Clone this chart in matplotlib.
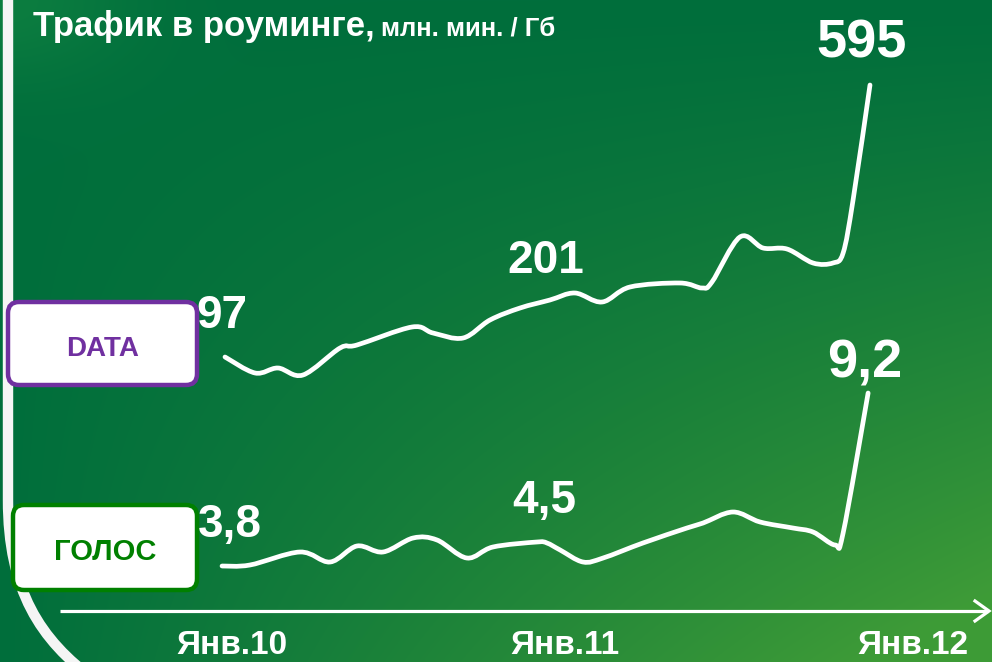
#!/usr/bin/env python3
"""Roaming traffic chart: DATA vs voice, Jan 2010 - Jan 2012."""
import numpy as np
import matplotlib

matplotlib.use("Agg")
import matplotlib.pyplot as plt
from matplotlib.path import Path
from matplotlib.patches import PathPatch, FancyBboxPatch
from matplotlib.transforms import Affine2D

# Curves as drawn (freehand, not to scale): x in months from Jan.10,
# y is the visual height of the line above the time axis.
data_months = [0.00, 1.12, 1.97, 2.90, 4.28, 4.91, 6.96, 7.74, 8.86, 9.86,
               10.98, 12.09, 13.02, 14.03, 15.07, 16.93, 17.75, 18.12, 19.16,
               20.02, 20.91, 21.88, 22.62, 23.00, 23.37, 24.00]
data_level = [254, 238, 243, 236, 263, 266, 284, 278, 273, 291,
              303, 311, 318, 309, 324, 328, 323, 329, 374,
              363, 362, 348, 348, 358, 411, 526]

voice_months = [-0.11, 0.93, 2.79, 3.91, 4.91, 5.88, 7.00, 7.89, 9.00, 9.97,
                11.61, 11.98, 12.47, 13.32, 14.07, 15.55, 17.19, 17.79, 18.90,
                19.91, 21.13, 21.88, 22.70, 23.00, 23.93]
voice_level = [45, 46, 59, 49, 65, 59, 73, 71, 53, 64,
               69, 68, 61, 49, 53, 68, 83, 88, 99,
               89, 83, 79, 66, 78, 218]

data_values = ["97", "201", "595"]
voice_values = ["3,8", "4,5", "9,2"]
period_labels = ["Янв.10", "Янв.11", "Янв.12"]

W, H = 992, 662
FONT = ["Liberation Sans Narrow", "Liberation Sans", "DejaVu Sans"]
PURPLE = "#7030A0"
GREEN = "#008000"


def smooth_path(xs, ys):
    """Catmull-Rom through the points, as cubic Bezier segments."""
    p = np.column_stack([xs, ys]).astype(float)
    ext = np.vstack([p[0], p, p[-1]])
    verts = [p[0]]
    codes = [Path.MOVETO]
    for i in range(1, len(ext) - 2):
        p0, p1, p2, p3 = ext[i - 1], ext[i], ext[i + 1], ext[i + 2]
        verts += [p1 + (p2 - p0) / 6, p2 - (p3 - p1) / 6, p2]
        codes += [Path.CURVE4] * 3
    return Path(verts, codes)


fig = plt.figure(figsize=(W / 100, H / 100), dpi=100)
ax = fig.add_axes([0, 0, 1, 1])
# month 0 sits at x=225px, month 24 at x=870px; level 0 is the axis line (y=611px)
px_per_month = (870 - 225) / 24
xlim = (-225 / px_per_month, (W - 225) / px_per_month)
ylim = (611 - H, 611)
ax.set_xlim(*xlim)
ax.set_ylim(*ylim)
ax.axis("off")

# pixel coordinates, origin top-left
px = Affine2D().scale(1 / W, -1 / H).translate(0, 1) + fig.transFigure

# background: dark green, lighter towards bottom right and at the top-left corner
yy, xx = np.mgrid[0:H, 0:W]
xn, yn = xx / W, yy / H
w = np.clip(1.15 * xn * yn ** 1.2, 0, 1)[..., None]
dark = np.array([0, 110, 60]) / 255
light = np.array([62, 155, 55]) / 255
img = dark * (1 - w) + light * w
corner = (0.4 * np.exp(-(xx / 130.0) ** 2 - (yy / 80.0) ** 2))[..., None]
img = img * (1 - corner) + np.array([30, 148, 70]) / 255 * corner
ax.imshow(img, extent=[*xlim, *ylim], origin="upper", aspect="auto", zorder=0)

# white frame stripe on the left, curving at the bottom
frame = Path([(8, -5), (8, 500), (8, 590), (40, 640), (95, 680)],
             [Path.MOVETO, Path.LINETO, Path.CURVE4, Path.CURVE4, Path.CURVE4])
ax.add_patch(PathPatch(frame, transform=px, fc="none", ec="#f5f5f5",
                       lw=7.5, zorder=1))

# time axis with open arrow head
ax.plot([60, 988], [611, 611], color="white", lw=2.3, transform=px,
        solid_capstyle="butt", zorder=3)
ax.plot([975, 989, 975], [601, 611, 621], color="white", lw=2.3,
        transform=px, solid_joinstyle="miter", zorder=3)

# the two curves
for xs, ys in [(data_months, data_level), (voice_months, voice_level)]:
    ax.add_patch(PathPatch(smooth_path(xs, ys), fc="none", ec="white",
                           lw=3.4, capstyle="round", joinstyle="round",
                           zorder=4))

# value labels: (x centre, baseline, size) in px
data_pos = [(222, 328, 33), (546, 273, 33), (862, 57, 39)]
voice_pos = [(230, 537, 33), (544, 513, 33), (865, 378, 39)]
for labels, pos in [(data_values, data_pos), (voice_values, voice_pos)]:
    for lbl, (x, y, s) in zip(labels, pos):
        ax.text(x, y, lbl, transform=px, ha="center", va="baseline",
                color="white", fontsize=s, fontweight="bold", family=FONT,
                zorder=5)

# series boxes
for (x0, y0, x1, y1), name, col, fs in [
        ((8, 302, 197, 385), "DATA", PURPLE, 20),
        ((13, 505, 197, 590), "ГОЛОС", GREEN, 21)]:
    ax.add_patch(FancyBboxPatch(
        (x0, y0), x1 - x0, y1 - y0, boxstyle="round,pad=0,rounding_size=11",
        transform=px, fc="white", ec=col, lw=3.2, zorder=6))
    ax.text((x0 + x1) / 2, (y0 + y1) / 2 + 12, name, transform=px,
            ha="center", va="baseline", color=col, fontsize=fs,
            fontweight="bold", family=FONT, zorder=7)

# period labels under the axis
for lbl, (x, y) in zip(period_labels, [(232, 661), (565, 661), (913, 661)]):
    ax.text(x, y, lbl, transform=px, ha="center", va="bottom",
            color="white", fontsize=24, fontweight="bold", family=FONT,
            zorder=5)

# title
t = ax.text(33, 36, "Трафик в роуминге,", transform=px, ha="left",
            va="baseline", color="white", fontsize=25, fontweight="bold",
            family=FONT, zorder=5)
fig.canvas.draw()
bb = t.get_window_extent()
ax.text(bb.x1 + 6, 36, "млн. мин. / Гб", transform=px, ha="left",
        va="baseline", color="white", fontsize=18.5, fontweight="bold",
        family=FONT, zorder=5)

fig.savefig("out.png", dpi=100)
